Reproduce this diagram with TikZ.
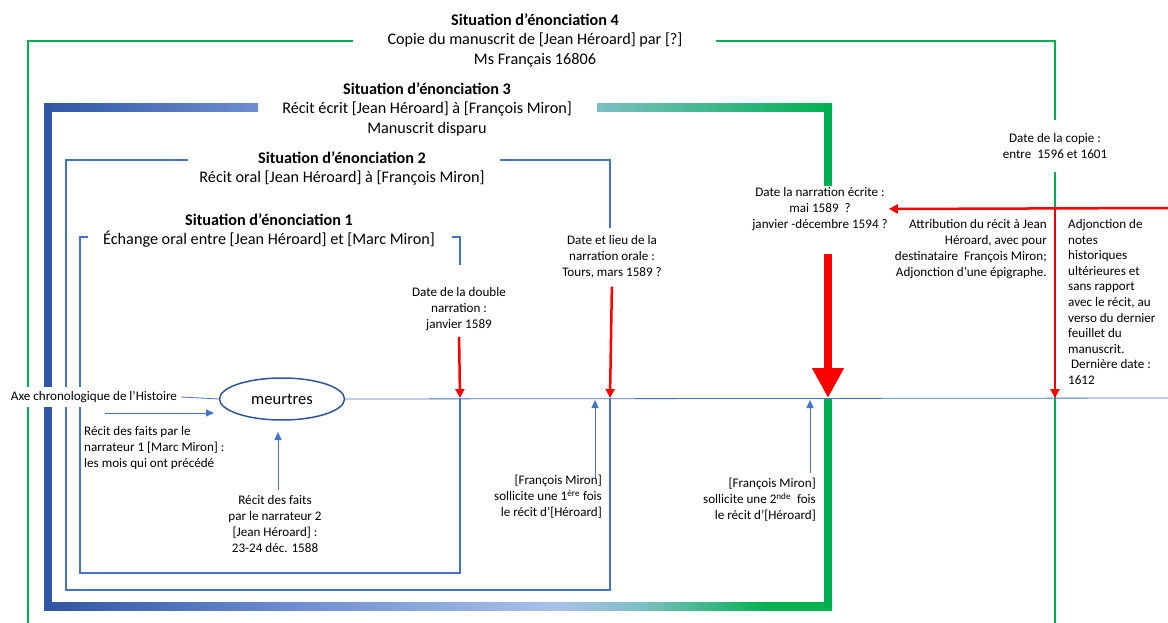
\documentclass[tikz,border=0pt]{standalone}
\usepackage{fontspec}
\setmainfont{Carlito}
\usetikzlibrary{arrows.meta,positioning,calc,shapes.geometric}
\definecolor{sitgreen}{HTML}{00B050}
\definecolor{sitblue}{HTML}{4472C4}
\definecolor{sitdark}{HTML}{2F55A4}
\definecolor{sitmid}{HTML}{6F8ED0}
\definecolor{sitlight}{HTML}{A9C1E8}
\definecolor{sitteal}{HTML}{7DBFC2}
\definecolor{ovaldark}{HTML}{2F5597}
\pgfdeclarehorizontalshading{bottombar}{100bp}{color(0bp)=(sitdark); color(25bp)=(sitdark); color(41bp)=(sitmid); color(57.7bp)=(sitlight); color(63bp)=(sitteal); color(71bp)=(sitgreen); color(100bp)=(sitgreen)}

\begin{document}
\begin{tikzpicture}[x=1pt,y=-1pt,
    sittext/.style={font=\fontsize{16.2}{19.5}\selectfont,align=center,inner sep=0pt},
    notetext/.style={font=\fontsize{13.1}{16}\selectfont,inner sep=1pt},
    sitframe/.style={line width=2.5pt},
    redarrow/.style={red,line width=2.5pt,-{Triangle[length=9pt,width=9pt]}},
    bluearrow/.style={sitblue,line width=1pt,-{Triangle[length=8pt,width=7pt]}}]
    \useasboundingbox (0,0) rectangle (1168,623);

    % Situation 4
    \draw[sitframe,sitgreen] (353,41) -- (28,41) -- (28,623);
    \draw[sitframe,sitgreen] (716,41) -- (1055,41) -- (1055,120);
    \draw[sitframe,sitgreen] (1055,172) -- (1055,623);
    \node[sittext] (sit4) at (535,40) {\textbf{Situation d’énonciation 4}\\Copie du manuscrit de [Jean Héroard] par [?]\\Ms Français 16806};

    % Situation 3
    \shade[left color=sitdark,right color=sitmid] (44,104) rectangle (258,112);
    \shade[left color=sitteal,right color=sitgreen] (597,104) rectangle (832,112);
    \fill[sitdark] (44,104) rectangle (52,610);
    \fill[sitgreen] (824,104) rectangle (832,186);
    \fill[sitgreen] (824,398) rectangle (832,610);
    \shade[shading=bottombar] (44,602) rectangle (832,610);
    \node[sittext] (sit3) at (427,109) {\textbf{Situation d’énonciation 3}\\Récit écrit [Jean Héroard] à [François Miron]\\Manuscrit disparu};

    % Situation 2
    \draw[sitframe,sitblue] (188,160) -- (66,160) -- (66,590) -- (610,590) -- (610,398);
    \draw[sitframe,sitblue] (500,160) -- (610,160) -- (610,228);
    \node[sittext] (sit2) at (342,168.5) {\textbf{Situation d’énonciation 2}\\Récit oral [Jean Héroard] à [François Miron]};

    % Situation 1
    \draw[sitframe,sitblue] (88,237) -- (80,237) -- (80,573) -- (460,573) -- (460,398);
    \draw[sitframe,sitblue] (452,237) -- (460,237) -- (460,265);
    \node[sittext] (sit1) at (269,230.5) {\textbf{Situation d’énonciation 1}\\Échange oral entre [Jean Héroard] et [Marc Miron]};

    % axe
    \node[notetext,fill=white,inner sep=4pt] (axe) at (94,397) {Axe chronologique de l’Histoire};
    \node[draw=ovaldark,line width=1.5pt,ellipse,minimum width=125pt,minimum height=42pt,font=\fontsize{16.5}{18}\selectfont] (meur) at (282,399) {meurtres};
    \coordinate (axend) at (1168,398);
    \draw[sitblue,line width=0.8pt] (axe.east) -- (meur.west);
    \draw[sitblue,line width=0.8pt] (meur.east) -- (axend);

    % narrateurs
    \coordinate (n1s) at (105,413);
    \coordinate (n1e) at (214,413);
    \draw[bluearrow] (n1s) -- (n1e);
    \node[notetext,align=left,anchor=west] (rec1) at (83,448) {Récit des faits par le\\narrateur 1 [Marc Miron] :\\les mois qui ont précédé};
    \node[notetext,align=center] (rec2) at (275,524) {Récit des faits\\par le narrateur 2\\{[}Jean Héroard{]} :\\23-24 déc. 1588};
    \coordinate (n2s) at (278,490);
    \coordinate (n2e) at (278,432);
    \draw[bluearrow] (n2s) -- (n2e);

    % dates
    \node[notetext,align=center] (dbl) at (459,309) {Date de la double\\narration :\\janvier 1589};
    \node[notetext,align=center] (orale) at (612,257) {Date et lieu de la\\narration orale :\\Tours, mars 1589 ?};
    \node[notetext,align=center] (ecrite) at (820,209) {Date la narration écrite :\\mai 1589\ \ ?\\janvier -décembre 1594 ?};
    \node[notetext,align=center] (copie) at (1055,146.5) {Date de la copie :\\entre\ \ 1596 et 1601};
    \coordinate (t1) at (460,398);
    \coordinate (t2) at (610,398);
    \coordinate (t3) at (828,398);
    \coordinate (t4) at (1055,398);
    \coordinate (bigtop) at (828,254);
    \draw[redarrow,shorten <=5pt] (dbl.south) -- (t1);
    \draw[redarrow,shorten <=7pt] (orale.south) -- (t2);
    \draw[red,line width=8pt,-{Triangle[length=30pt,width=30pt]}] (bigtop) -- (t3);

    % copie
    \coordinate (redin) at (1168,208);
    \coordinate (cross) at (1055,208);
    \draw[redarrow] (redin) -- (ecrite.east);
    \draw[redarrow] (cross) -- (t4);
    \node[notetext,align=right,anchor=east] (attr) at (1048,249.5) {Attribution du récit à Jean\\Héroard, avec pour\\destinataire\ \ François Miron;\\Adjonction d’une épigraphe.};
    \node[notetext,align=left,anchor=west,font=\fontsize{13.1}{15.6}\selectfont] (adj) at (1067,302) {Adjonction de\\notes\\historiques\\ultérieures et\\sans rapport\\avec le récit, au\\verso du dernier\\feuillet du\\manuscrit.\\\ Dernière date :\\1612};

    % Francois Miron
    \node[notetext,align=right,anchor=east] (sol1) at (603,497) {[François Miron]\\sollicite une 1\textsuperscript{ère} fois\\le récit d’[Héroard]};
    \node[notetext,align=right,anchor=east] (sol2) at (817,500) {[François Miron]\\sollicite une 2\textsuperscript{nde}\ \ fois\\le récit d’[Héroard]};
    \coordinate (s1s) at (595,478);
    \coordinate (s1e) at (595,400);
    \coordinate (s2s) at (810,473);
    \coordinate (s2e) at (810,400);
    \draw[bluearrow] (s1s) -- (s1e);
    \draw[bluearrow] (s2s) -- (s2e);
\end{tikzpicture}
\end{document}
